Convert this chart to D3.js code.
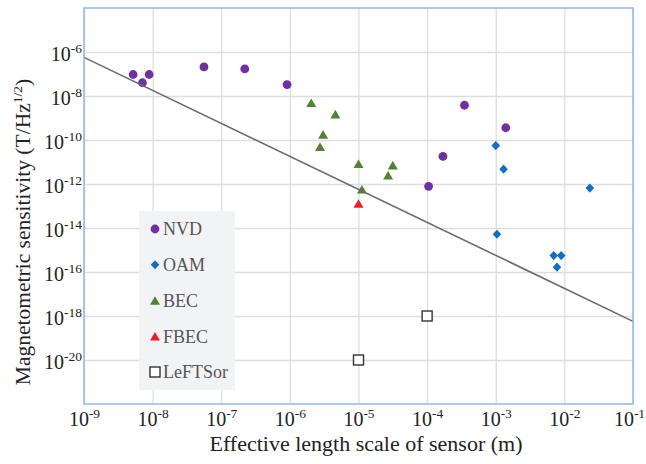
<!DOCTYPE html>
<html><head><meta charset="utf-8">
<script src="https://cdn.jsdelivr.net/npm/d3@7"></script>
<style>body{margin:0;background:#fff}svg{display:block}</style>
</head><body><svg id="c" width="646" height="464"></svg>
<script>
// ---- data ----
const nvdX = [5.2e-9, 7.1e-9, 8.9e-9, 5.6e-8, 2.2e-7, 9.1e-7, 1.05e-4, 1.7e-4, 3.5e-4, 1.4e-3];
const nvdY = [9.5e-8, 4.0e-8, 9.5e-8, 2.1e-7, 1.7e-7, 3.3e-8, 7.8e-13, 1.8e-11, 3.8e-9, 3.6e-10];
const oamX = [1.0e-3, 1.3e-3, 2.35e-2, 1.04e-3, 7.0e-3, 9.0e-3, 7.8e-3];
const oamY = [5.6e-11, 4.7e-12, 6.5e-13, 5.2e-15, 5.6e-16, 5.6e-16, 1.66e-16];
const becX = [2.05e-6, 4.6e-6, 3.05e-6, 2.75e-6, 1.0e-5, 3.16e-5, 2.7e-5, 1.12e-5];
const becY = [4.9e-9, 1.5e-9, 1.8e-10, 5.0e-11, 8.3e-12, 7.2e-12, 2.5e-12, 5.8e-13];
const fbecX = [1.0e-5];
const fbecY = [1.3e-13];
const leftX = [1.0e-5, 1.0e-4];
const leftY = [1.0e-20, 1.0e-18];
const limitX = [1e-9, 1e-1];
const limitY = [5.7e-7, 5.7e-19];
const seriesNames = ["NVD", "OAM", "BEC", "FBEC", "LeFTSor"];
const xTickExp = [-9, -8, -7, -6, -5, -4, -3, -2, -1];
const yTickExp = [-20, -18, -16, -14, -12, -10, -8, -6];
const xTitle = "Effective length scale of sensor (m)";
const yTitle = "Magnetometric sensitivity (T/Hz";

// ---- layout ----
const L = 84, R = 633, T = 8, B = 404;
const svg = d3.select("#c");
const font = "'Liberation Serif','Times New Roman',serif";
const x = d3.scaleLog().domain([1e-9, 1e-1]).range([L, R]);
const y = d3.scaleLog().domain([1e-22, 1e-4]).range([B, T]);

// gridlines + tick labels
const xAxis = d3.axisBottom(x).tickValues(xTickExp.map(e => Math.pow(10, e)))
  .tickSizeInner(-(B - T)).tickSizeOuter(0).tickFormat(() => "");
const gx = svg.append("g").attr("transform", `translate(0,${B})`).call(xAxis);
gx.select(".domain").remove();
gx.selectAll("line").attr("stroke", "#dedede").attr("stroke-width", 1.3);
gx.selectAll(".tick").each(function(d, i) {
  const t = d3.select(this).select("text").attr("y", 22).attr("dy", null)
    .attr("x", i === xTickExp.length - 1 ? -4 : 0)
    .attr("font-family", font).attr("font-size", 20).attr("fill", "#222").text(null);
  t.append("tspan").text("10");
  t.append("tspan").attr("dy", -8).attr("font-size", 13.5).text(String(xTickExp[i]));
});

const yAxis = d3.axisLeft(y).tickValues(yTickExp.map(e => Math.pow(10, e)))
  .tickSizeInner(-(R - L)).tickSizeOuter(0).tickFormat(() => "");
const gy = svg.append("g").attr("transform", `translate(${L},0)`).call(yAxis);
gy.select(".domain").remove();
gy.selectAll("line").attr("stroke", "#dedede").attr("stroke-width", 1.3);
gy.selectAll(".tick").each(function(d, i) {
  const t = d3.select(this).select("text").attr("x", -2).attr("dy", "0.4em")
    .attr("font-family", font).attr("font-size", 20).attr("fill", "#222").text(null);
  t.append("tspan").text("10");
  t.append("tspan").attr("dy", -8).attr("font-size", 13.5).text(String(yTickExp[i]));
});

// marker shapes
const shapes = {
  circle: (g, c) => g.append("circle").attr("r", 4.4).attr("fill", c),
  diamond: (g, c) => g.append("path").attr("d", "M0,-4.6L4.3,0L0,4.6L-4.3,0Z").attr("fill", c),
  triangle: (g, c) => g.append("path").attr("d", "M0,-4.3L5,4.3L-5,4.3Z").attr("fill", c),
  square: (g, c) => g.append("rect").attr("x", -5).attr("y", -5).attr("width", 10).attr("height", 10)
    .attr("fill", "#fff").attr("stroke", "#333").attr("stroke-width", 1.4)
};
const series = [
  {xs: nvdX, ys: nvdY, shape: "circle", color: "#7030a0"},
  {xs: oamX, ys: oamY, shape: "diamond", color: "#0f6fc6"},
  {xs: becX, ys: becY, shape: "triangle", color: "#548235"},
  {xs: fbecX, ys: fbecY, shape: "triangle", color: "#ee1c25"},
  {xs: leftX, ys: leftY, shape: "square", color: "#333"}
];
series.forEach(s => {
  s.xs.forEach((xv, i) => {
    const g = svg.append("g").attr("transform", `translate(${x(xv)},${y(s.ys[i])})`);
    shapes[s.shape](g, s.color);
  });
});

// limit line
svg.append("path")
  .attr("d", d3.line().x(d => x(d[0])).y(d => y(d[1]))(limitX.map((v, i) => [v, limitY[i]])))
  .attr("stroke", "#6b6b6b").attr("stroke-width", 1.6).attr("fill", "none");

// legend
const lg = svg.append("g");
lg.append("rect").attr("x", 139).attr("y", 211).attr("width", 96).attr("height", 179).attr("fill", "#f2f3f5");
const ly = d3.scalePoint().domain(seriesNames).range([229, 372]);
seriesNames.forEach((n, i) => {
  const g = lg.append("g").attr("transform", `translate(155,${ly(n)})`);
  shapes[series[i].shape](g, series[i].color);
  lg.append("text").attr("x", 163).attr("y", ly(n)).attr("dy", "0.36em")
    .attr("font-family", font).attr("font-size", 18).attr("fill", "#555").text(n);
});

// frame
svg.append("rect").attr("x", L).attr("y", T).attr("width", R - L).attr("height", B - T)
  .attr("fill", "none").attr("stroke", "#8fb8e6").attr("stroke-width", 1.5);

// titles
svg.append("text").attr("x", 366).attr("y", 451).attr("text-anchor", "middle")
  .attr("font-family", font).attr("font-size", 22).attr("fill", "#222").text(xTitle);
const yt = svg.append("text").attr("transform", "translate(30,232) rotate(-90)").attr("text-anchor", "middle")
  .attr("font-family", font).attr("font-size", 21.5).attr("fill", "#222");
yt.append("tspan").text(yTitle);
yt.append("tspan").attr("dy", -8).attr("font-size", 13.5).text("1/2");
yt.append("tspan").attr("dy", 8).text(")");
</script></body></html>
